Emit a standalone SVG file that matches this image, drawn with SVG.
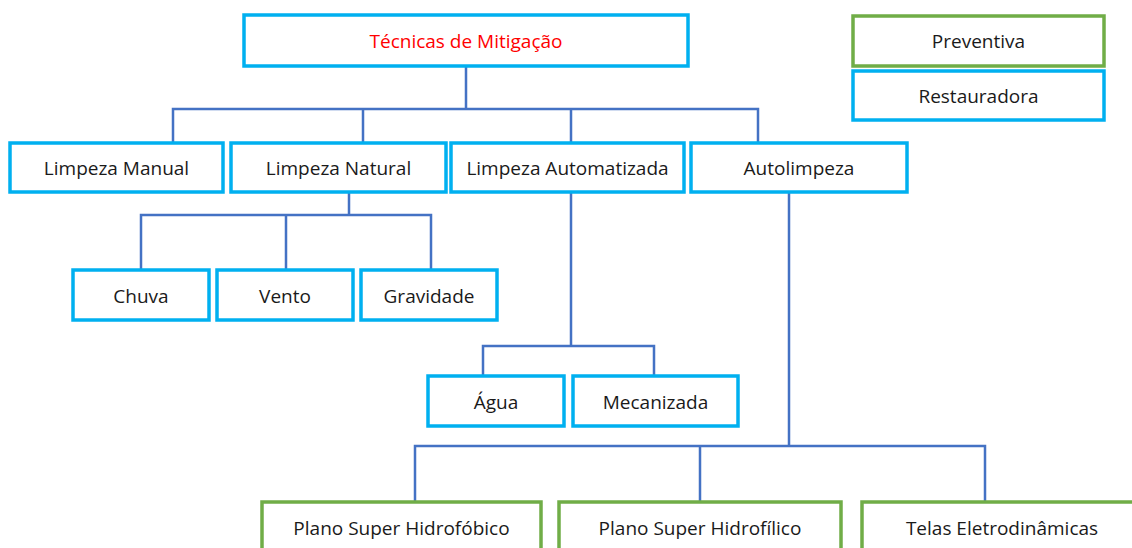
<svg xmlns="http://www.w3.org/2000/svg" width="1132" height="548" viewBox="0 0 1132 548">
<style>
.b{fill:#fff;stroke:#00B0F0;stroke-width:3.5}
.g{fill:#fff;stroke:#70AD47;stroke-width:3.5}
text{font-family:"Open Sans","Liberation Sans",sans-serif;font-size:19px;fill:#1a1a1a;text-anchor:middle;dominant-baseline:central}
.c{fill:none;stroke:#4472C4;stroke-width:2.5}
</style>
<rect width="1132" height="548" fill="#fff"/>
<g id="connectors" class="c">
<path class="c" d="M466 66V109M173 143V109H758V143M363 109V143M571 109V143"/>
<path class="c" d="M349 192V215M141 270V215H431V270M286 215V270"/>
<path class="c" d="M571 192V346M483 376V346H654V376"/>
<path class="c" d="M789 192V446M415 502V446H985V502M700 446V502"/>
</g>
<g id="tecnicas"><rect class="b" x="244" y="15" width="444" height="51"/><text x="466" y="41" style="fill:#FF0000">Técnicas de Mitigação</text></g>
<g id="preventiva"><rect class="g" x="853" y="16" width="251" height="50"/><text x="978.5" y="41">Preventiva</text></g>
<g id="restauradora"><rect class="b" x="853" y="71" width="251" height="49"/><text x="978.5" y="96">Restauradora</text></g>
<g id="manual"><rect class="b" x="10" y="143" width="213" height="49"/><text x="116.5" y="168">Limpeza Manual</text></g>
<g id="natural"><rect class="b" x="231" y="143" width="215" height="49"/><text x="338.5" y="168">Limpeza Natural</text></g>
<g id="automatizada"><rect class="b" x="451" y="143" width="233" height="49"/><text x="567.5" y="168">Limpeza Automatizada</text></g>
<g id="autolimpeza"><rect class="b" x="691" y="143" width="216" height="49"/><text x="799" y="168">Autolimpeza</text></g>
<g id="chuva"><rect class="b" x="73" y="270" width="136" height="50"/><text x="141" y="296">Chuva</text></g>
<g id="vento"><rect class="b" x="217" y="270" width="136" height="50"/><text x="285" y="296">Vento</text></g>
<g id="gravidade"><rect class="b" x="361" y="270" width="136" height="50"/><text x="429" y="296">Gravidade</text></g>
<g id="agua"><rect class="b" x="428" y="376" width="136" height="50"/><text x="496" y="402">Água</text></g>
<g id="mecanizada"><rect class="b" x="573" y="376" width="165" height="50"/><text x="655.5" y="402">Mecanizada</text></g>
<g id="hidrofobico"><rect class="g" x="262" y="502" width="279" height="60"/><text x="401.5" y="528">Plano Super Hidrofóbico</text></g>
<g id="hidrofilico"><rect class="g" x="559" y="502" width="282" height="60"/><text x="700" y="528">Plano Super Hidrofílico</text></g>
<g id="telas"><rect class="g" x="862" y="502" width="290" height="60"/><text x="1002" y="528">Telas Eletrodinâmicas</text></g>
</svg>
